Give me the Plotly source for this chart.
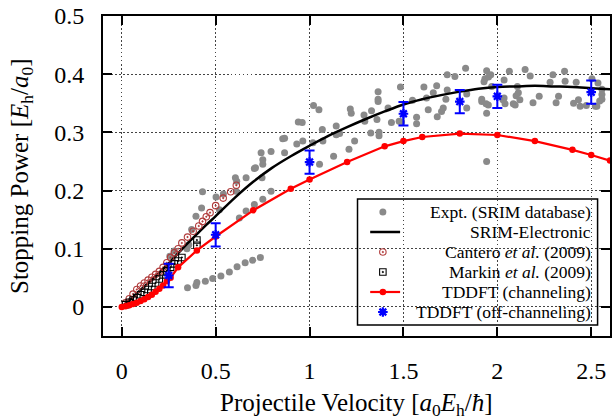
import plotly.graph_objects as go

# ---- data ----
expt_x = [0.35, 0.395, 0.40, 0.445, 0.484, 0.528, 0.573, 0.614, 0.657, 0.697, 0.738,
          0.256, 0.279, 0.347, 0.357, 0.372, 0.395, 0.425, 0.43, 0.502, 0.541, 0.52,
          0.605, 0.612, 0.609, 0.626, 0.662, 0.662, 0.706, 0.712, 0.706, 0.742, 0.751,
          0.751, 0.747, 0.751, 0.795, 0.795, 0.857, 0.867, 0.867, 0.932, 0.94, 0.961,
          0.964, 1.021, 1.05, 1.018, 1.053, 1.068, 1.071,
          1.128, 1.142, 1.16, 1.142, 1.21, 1.217, 1.222, 1.24, 1.29, 1.294, 1.33, 1.326,
          1.365, 1.365, 1.365, 1.359, 1.37, 1.37, 1.418, 1.436, 1.477, 1.484, 1.49, 1.548,
          1.57, 1.57, 1.609, 1.623, 1.632, 1.659, 1.677, 1.68, 1.703, 1.712, 1.726, 1.733,
          1.733, 1.774, 1.831, 1.837, 1.837,
          1.917, 1.917, 1.929, 1.934, 1.943, 1.943, 1.943, 1.953, 1.965, 1.97, 1.952, 1.94,
          2.03, 2.036, 2.036, 2.041, 2.064, 2.085, 2.095, 2.10, 2.107, 2.112, 2.12, 2.148,
          2.175, 2.19, 2.223, 2.281, 2.296, 2.313, 2.326, 2.358, 2.361, 2.406, 2.42, 2.432,
          2.441, 2.474, 2.504, 2.522, 2.53, 2.536, 2.557, 2.557, 2.557, 2.545]
expt_y = [0.033, 0.037, 0.042, 0.044, 0.049, 0.053, 0.060, 0.069, 0.076, 0.080, 0.085,
          0.087, 0.096, 0.100, 0.107, 0.133, 0.156, 0.170, 0.198, 0.189, 0.194, 0.167,
          0.222, 0.216, 0.199, 0.153, 0.165, 0.222, 0.238, 0.239, 0.176, 0.265, 0.253,
          0.245, 0.222, 0.185, 0.267, 0.199, 0.289, 0.290, 0.265, 0.280, 0.318, 0.317,
          0.285, 0.346, 0.339, 0.282, 0.245, 0.305, 0.285,
          0.259, 0.311, 0.298, 0.296, 0.271, 0.340, 0.333, 0.285, 0.330, 0.319, 0.337, 0.299,
          0.370, 0.357, 0.353, 0.322, 0.300, 0.294, 0.342, 0.317, 0.319, 0.378, 0.318, 0.355,
          0.326, 0.315, 0.378, 0.359, 0.339, 0.368, 0.380, 0.327, 0.336, 0.342, 0.357, 0.399,
          0.373, 0.396, 0.410, 0.366, 0.342,
          0.357, 0.353, 0.387, 0.392, 0.406, 0.333, 0.250, 0.395, 0.399, 0.379, 0.347, 0.349,
          0.356, 0.390, 0.359, 0.349, 0.405, 0.349, 0.347, 0.363, 0.379, 0.368, 0.356, 0.408,
          0.397, 0.351, 0.362, 0.386, 0.399, 0.351, 0.362, 0.405, 0.388, 0.350, 0.386, 0.356,
          0.345, 0.346, 0.392, 0.345, 0.345, 0.385, 0.374, 0.365, 0.357, 0.354]

srim_x = [0, 0.05, 0.1, 0.15, 0.2, 0.25, 0.3, 0.35, 0.4, 0.45, 0.5, 0.6, 0.7, 0.8, 0.9,
          1.0, 1.1, 1.2, 1.3, 1.4, 1.5, 1.6, 1.7, 1.8, 1.9, 2.0, 2.1, 2.2, 2.3, 2.4, 2.5, 2.6]
srim_y = [0, 0.014, 0.029, 0.044, 0.059, 0.075, 0.092, 0.109, 0.125, 0.141, 0.156, 0.187,
          0.215, 0.239, 0.259, 0.277, 0.294, 0.309, 0.323, 0.336, 0.348, 0.357, 0.364,
          0.370, 0.375, 0.378, 0.379, 0.380, 0.379, 0.378, 0.376, 0.374]

cantero_x = [0.02, 0.04, 0.06, 0.08, 0.10, 0.12, 0.14, 0.16, 0.18, 0.20, 0.22, 0.24, 0.26,
             0.28, 0.30, 0.32, 0.35, 0.38, 0.41, 0.43, 0.45, 0.47, 0.50, 0.54, 0.58, 0.61]
cantero_y = [0.007, 0.014, 0.022, 0.030, 0.036, 0.041, 0.046, 0.051, 0.056, 0.061, 0.068,
             0.076, 0.085, 0.093, 0.100, 0.110, 0.120, 0.130, 0.139, 0.147, 0.155, 0.162,
             0.174, 0.187, 0.198, 0.209]

markin_x = [0.02, 0.04, 0.06, 0.08, 0.10, 0.12, 0.14, 0.16, 0.18, 0.20, 0.22, 0.24, 0.26,
            0.28, 0.30, 0.32, 0.40, 0.40]
markin_y = [0.004, 0.008, 0.012, 0.016, 0.021, 0.025, 0.030, 0.035, 0.041, 0.048, 0.055,
            0.062, 0.068, 0.074, 0.079, 0.085, 0.106, 0.115]

chan_x = [0.0, 0.02, 0.04, 0.06, 0.08, 0.10, 0.12, 0.14, 0.16, 0.18, 0.20, 0.22, 0.24, 0.26,
          0.30, 0.40, 0.50, 0.70, 0.90, 1.0, 1.2, 1.4, 1.5, 1.6, 1.8, 2.0, 2.2, 2.4, 2.5, 2.6]
chan_y = [0.0, 0.001, 0.003, 0.005, 0.007, 0.010, 0.013, 0.017, 0.021, 0.026, 0.031, 0.037,
          0.044, 0.050, 0.068, 0.097, 0.121, 0.166, 0.203, 0.219, 0.249, 0.276, 0.285, 0.292,
          0.298, 0.2955, 0.285, 0.270, 0.261, 0.2515]

off_x = [0.25, 0.5, 1.0, 1.5, 1.8, 2.0, 2.5]
off_y = [0.054, 0.124, 0.249, 0.332, 0.353, 0.362, 0.369]
off_err = [0.02, 0.02, 0.02, 0.02, 0.02, 0.02, 0.02]

legend_names = ["Expt. (SRIM database)", "SRIM-Electronic", "Cantero <i>et al.</i> (2009)",
                "Markin <i>et al.</i> (2009)", "TDDFT (channeling)", "TDDFT (off-channeling)"]

FONT = "Liberation Serif"
GRAY = "#8a8a8a"
CANTERO = "#b03a3a"

fig = go.Figure()

fig.add_trace(go.Scatter(x=expt_x, y=expt_y, mode="markers",
                         marker=dict(color=GRAY, size=7)))
fig.add_trace(go.Scatter(x=srim_x, y=srim_y, mode="lines", line_shape="spline",
                         line=dict(color="black", width=2.5)))
fig.add_trace(go.Scatter(x=cantero_x, y=cantero_y, mode="markers",
                         marker=dict(symbol="circle-dot", color="rgba(0,0,0,0)", size=6.5,
                                     line=dict(color=CANTERO, width=1.1))))
fig.add_trace(go.Scatter(x=markin_x, y=markin_y, mode="markers",
                         marker=dict(symbol="square-dot", color="rgba(0,0,0,0)", size=6.5,
                                     line=dict(color="black", width=1.1))))
fig.add_trace(go.Scatter(x=chan_x, y=chan_y, mode="lines+markers",
                         line=dict(color="red", width=2.2),
                         marker=dict(color="red", size=6.5)))
fig.add_trace(go.Scatter(x=off_x, y=off_y, mode="markers",
                         error_y=dict(type="data", array=off_err, color="blue",
                                      thickness=2, width=5),
                         marker=dict(symbol="asterisk-open", size=8, color="blue",
                                     line=dict(color="blue", width=2.2))))

# ---- hand-made legend (right-aligned labels like the original) ----
leg_x0, leg_x1, leg_y0, leg_y1 = 0.502, 0.9755, 0.034, 0.428
row_y = [0.3875, 0.325, 0.2625, 0.2, 0.1375, 0.075]
sym_x = 0.552
line_x = [0.527, 0.586]

fig.add_shape(type="rect", xref="paper", yref="paper", x0=leg_x0, x1=leg_x1,
              y0=leg_y0, y1=leg_y1, fillcolor="white", line=dict(color="black", width=1.5),
              layer="between")

leg = dict(xaxis="x2", yaxis="y2", showlegend=False, hoverinfo="skip")
fig.add_trace(go.Scatter(x=[sym_x], y=[row_y[0]], mode="markers",
                         marker=dict(color=GRAY, size=7), **leg))
fig.add_trace(go.Scatter(x=line_x, y=[row_y[1]] * 2, mode="lines",
                         line=dict(color="black", width=2.5), **leg))
fig.add_trace(go.Scatter(x=[sym_x], y=[row_y[2]], mode="markers",
                         marker=dict(symbol="circle-dot", color="rgba(0,0,0,0)", size=6.5,
                                     line=dict(color=CANTERO, width=1.1)), **leg))
fig.add_trace(go.Scatter(x=[sym_x], y=[row_y[3]], mode="markers",
                         marker=dict(symbol="square-dot", color="rgba(0,0,0,0)", size=6.5,
                                     line=dict(color="black", width=1.1)), **leg))
fig.add_trace(go.Scatter(x=line_x, y=[row_y[4]] * 2, mode="lines",
                         line=dict(color="red", width=2.2), **leg))
fig.add_trace(go.Scatter(x=[sym_x], y=[row_y[4]], mode="markers",
                         marker=dict(color="red", size=6.5), **leg))
fig.add_trace(go.Scatter(x=[sym_x], y=[row_y[5]], mode="markers",
                         marker=dict(symbol="asterisk-open", size=8, color="blue",
                                     line=dict(color="blue", width=2.2)), **leg))

for name, yy in zip(legend_names, row_y):
    fig.add_annotation(xref="paper", yref="paper", x=0.966, y=yy, text=name,
                       showarrow=False, xanchor="right", yanchor="middle",
                       font=dict(family=FONT, size=17.5, color="black"))

# axis titles
fig.add_annotation(xref="paper", yref="paper", x=-0.1617, y=0.5, textangle=-90,
                   text="Stopping Power [<i>E</i><sub>h</sub>/<i>a</i><sub>0</sub>]",
                   showarrow=False, xanchor="center", yanchor="middle",
                   font=dict(family=FONT, size=25, color="black"))
fig.add_annotation(xref="paper", yref="paper", x=0.5, y=-0.215,
                   text="Projectile Velocity [<i>a</i><sub>0</sub><i>E</i><sub>h</sub>/<i>ħ</i>]",
                   showarrow=False, xanchor="center", yanchor="middle",
                   font=dict(family=FONT, size=25, color="black"))

axis_common = dict(showline=True, linecolor="black", linewidth=2, mirror="ticks",
                   ticks="inside", ticklen=9, tickwidth=2, tickcolor="black",
                   showgrid=True, gridcolor="#444444", gridwidth=1, griddash="1.5px,2.5px",
                   zeroline=False, automargin=False,
                   tickfont=dict(family=FONT, size=24, color="black"))

fig.update_layout(
    width=616, height=420,
    margin=dict(l=103, r=6, t=16, b=84),
    paper_bgcolor="white", plot_bgcolor="white",
    showlegend=False,
    xaxis=dict(range=[-0.1, 2.6], tickvals=[0, 0.5, 1, 1.5, 2, 2.5],
               ticktext=["0", "0.5", "1", "1.5", "2", "2.5"], ticklabelstandoff=12,
               **axis_common),
    yaxis=dict(range=[-0.05, 0.5], tickvals=[0, 0.1, 0.2, 0.3, 0.4, 0.5],
               ticktext=["0", "0.1", "0.2", "0.3", "0.4", "0.5"], ticklabelstandoff=12,
               **axis_common),
    xaxis2=dict(overlaying="x", range=[0, 1], visible=False, fixedrange=True),
    yaxis2=dict(overlaying="y", range=[0, 1], visible=False, fixedrange=True),
)

# the page's default body margin would shift the 616x420 figure; drop it
fig.write_html("out.html", config={"displayModeBar": False},
               post_script="document.body.style.margin = '0';")
